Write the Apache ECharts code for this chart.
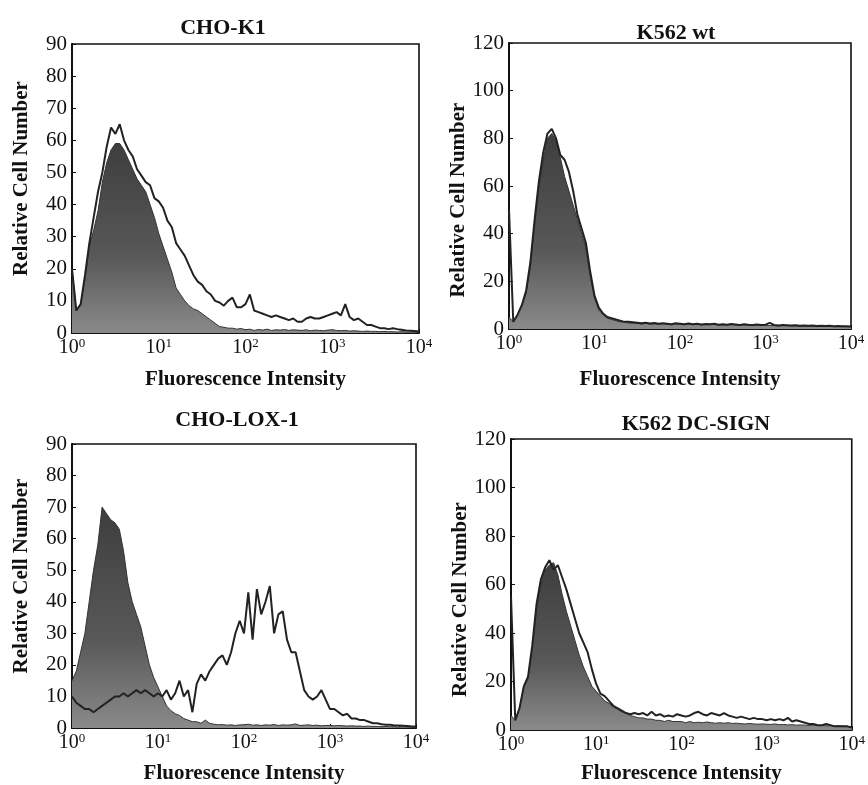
<!DOCTYPE html>
<html>
<head>
<meta charset="utf-8">
<script src="https://cdn.jsdelivr.net/npm/echarts@6/dist/echarts.min.js"></script>
<style>
html,body{margin:0;padding:0;background:#fff;}
#c{width:868px;height:785px;}
</style>
</head>
<body>
<div id="c"></div>
<script>
// log10 channel positions (fluorescence decades)
const channels = [0.00,0.05,0.10,0.15,0.20,0.25,0.30,0.35,0.40,0.45,
  0.50,0.55,0.60,0.65,0.70,0.75,0.80,0.85,0.90,0.95,
  1.00,1.05,1.10,1.15,1.20,1.25,1.30,1.35,1.40,1.45,
  1.50,1.55,1.60,1.65,1.70,1.75,1.80,1.85,1.90,1.95,
  2.00,2.05,2.10,2.15,2.20,2.25,2.30,2.35,2.40,2.45,
  2.50,2.55,2.60,2.65,2.70,2.75,2.80,2.85,2.90,2.95,
  3.00,3.05,3.10,3.15,3.20,3.25,3.30,3.35,3.40,3.45,
  3.50,3.55,3.60,3.65,3.70,3.75,3.80,3.85,3.90,3.95,4.00];

const xTickExponents = [0, 1, 2, 3, 4];

const panelTitles = ['CHO-K1', 'K562 wt', 'CHO-LOX-1', 'K562 DC-SIGN'];
const yMaxes = [90, 120, 90, 120];
const yIntervals = [10, 20, 10, 20];

const choK1Control = [20,7,9,17,27,32,38,47,53,57,
  59,59,57,54,51,48,46,44,40,36,
  31,27,23,19,14,12,10,8.5,7.5,7,
  6,5,4,3,2,1.8,1.5,1.5,1.2,1.4,
  1,1.2,0.8,1.1,0.9,1.2,0.8,1,0.9,1.1,
  0.8,1,0.9,0.8,1,0.7,0.9,0.8,0.7,0.9,
  1,0.8,0.7,0.8,0.6,0.7,0.6,0.5,0.6,0.5,
  0.5,0.4,0.5,0.4,0.4,0.3,0.4,0.3,0.3,0.3,0.3];
const choK1Stain = [20,7,9,18,28,36,44,50,58,64,
  62,65,60,57,55,51,49,47,46,42,
  41,39,35,33,28,26,24,21,18,16,
  15,13,12,10,9.5,8.5,10,11,8,8,
  9,12,7,6.5,6,5.5,5,5.5,5,4.5,
  4,4.5,3.5,3.5,4.5,5,4.5,4.5,5,5.5,
  6,6.5,5.5,9,5,4,4.5,3.5,2.5,2.5,
  2,1.5,1.5,1.2,1.5,1.2,1,0.8,0.7,0.6,0.5];

const k562wtControl = [5,3,6,10,15,26,44,60,71,80,
  82,79,72,64,58,52,46,40,34,22,
  13,8,6,4.5,4,3.5,3,3,2.5,2.5,
  2.5,2,2.5,2,2.2,2,2.3,2,1.8,2.2,
  2,1.8,2.1,1.8,2,1.7,1.9,1.8,2,1.6,
  1.8,1.6,1.9,1.7,1.5,1.8,1.6,1.5,1.7,1.5,
  1.6,1.4,1.5,1.3,1.5,1.4,1.3,1.4,1.2,1.3,
  1.2,1.3,1.1,1.2,1.1,1.2,1,1.1,1,1,0.9];
const k562wtStain = [50,3,6,10,16,28,46,62,74,82,
  84,80,73,71,66,58,48,42,36,24,
  14,9,6.5,5,4.5,4,3.5,3,3,2.8,
  2.6,2.4,2.6,2.3,2.5,2.2,2.4,2.2,2,2.4,
  2.2,2,2.3,2,2.2,1.9,2.1,2,2.2,1.8,
  2,1.8,2.1,1.9,1.7,2,1.8,1.7,1.9,1.7,
  1.8,2.6,1.7,1.5,1.7,1.6,1.5,1.6,1.4,1.5,
  1.4,1.5,1.3,1.4,1.3,1.4,1.2,1.3,1.2,1.2,1.1];

const choLoxControl = [15,18,24,30,40,50,58,70,68,66,
  65,63,56,46,40,36,32,26,20,16,
  13,10,7,5.5,4.5,4,3,2.5,2,2,
  1.5,2.5,1.5,1.2,1,1.1,0.9,1,0.8,1,
  1,1.2,0.9,1,0.8,1,0.9,1.1,0.8,1,
  0.9,1,1.3,0.8,0.9,1,0.8,0.9,0.7,0.8,
  0.8,0.7,0.8,0.7,0.6,0.7,0.6,0.6,0.5,0.6,
  0.5,0.5,0.4,0.5,0.4,0.4,0.3,0.4,0.3,0.3,0.3];
const choLoxStain = [10,8,7,6,6,5,6,7,8,9,
  10,10,11,10,11,12,11,12,11,10,
  11,10,12,9,11,15,10,12,5,14,
  17,15,18,20,22,23,20,24,30,34,
  30,43,28,44,36,40,45,30,36,37,
  28,24,24,18,12,10,9,10,12,9,
  6,6,5,4,4.5,3,3,2.5,2.5,2,
  1.5,1.5,1.2,1,1,0.8,0.8,0.7,0.6,0.5,0.5];

const k562DcControl = [6,4,9,18,21,34,50,60,66,68,
  69,64,56,49,43,37,31,26,22,18,
  16,14,12,11,9.5,8.5,7.5,7,6,5.5,
  5,5,4.5,4.5,4,4,3.5,4,3.5,3.5,
  3.5,3,3.5,3,3.2,3,3.3,3,2.8,3,
  2.8,3,2.7,2.8,2.6,2.5,2.7,2.5,2.4,2.5,
  2.4,2.3,2.5,2.2,2.3,2.1,2.2,2,2.1,2,
  1.9,2,1.8,1.9,1.7,1.8,1.6,1.7,1.5,1.5,1.3];
const k562DcStain = [55,4,9,18,22,35,52,62,67,70,
  66,68,63,58,52,46,40,36,32,25,
  19,15,14,12,10,9,8,7,6.5,7,
  6.5,7,6,7.5,6,6.5,5.5,6,5.5,6.5,
  6,5.5,6,7,7.5,6.5,6,7,6.5,6,
  7,6,5.5,5,5.5,5,4.5,5,4.5,4.5,
  4,4.5,4,4.5,4,5,3.5,4,3.5,3,
  2.5,2.5,2,2,2.5,2,1.5,1.5,1.5,1.5,1];

const controls = [choK1Control, k562wtControl, choLoxControl, k562DcControl];
const stains = [choK1Stain, k562wtStain, choLoxStain, k562DcStain];

// layout
const grids = [
  {left: 72, top: 44, width: 347, height: 289},
  {left: 509, top: 43, width: 342, height: 286},
  {left: 72, top: 444, width: 344, height: 286},
  {left: 511, top: 439, width: 341, height: 293}
];
const titlePos = [[218, 12], [671, 17], [232, 404], [691, 408]];
const xNameGaps = [36, 40, 35, 33];
const yNamePads = [[0,0,0,20],[0,28,0,0],[0,0,0,20],[0,30,0,0]];

const FONT = '"Liberation Serif", "Times New Roman", serif';

const chart = echarts.init(document.getElementById('c'));

const option = {
  backgroundColor: '#fff',
  animation: false,
  title: panelTitles.map((t, i) => ({
    text: t, left: titlePos[i][0], top: titlePos[i][1], textAlign: 'center',
    textStyle: {fontFamily: FONT, fontWeight: 'bold', fontSize: 22, color: '#111'}
  })),
  grid: grids.map(g => Object.assign({show: true, borderColor: '#111', borderWidth: 1.6, backgroundColor: 'transparent'}, g)),
  xAxis: grids.map((g, i) => ({
    gridIndex: i, type: 'value', min: xTickExponents[0], max: xTickExponents[xTickExponents.length - 1], interval: 1,
    name: 'Fluorescence Intensity', nameLocation: 'middle', nameGap: xNameGaps[i],
    nameTextStyle: {fontFamily: FONT, fontWeight: 'bold', fontSize: 21, color: '#111'},
    axisLine: {show: true, lineStyle: {color: '#111', width: 2}},
    axisTick: {show: true, inside: true, length: 4, lineStyle: {color: '#111'}},
    minorTick: {show: true, splitNumber: 5, length: 2, lineStyle: {color: '#333'}},
    splitLine: {show: false},
    axisLabel: {
      margin: 4, fontFamily: FONT, fontSize: 20, color: '#111',
      formatter: v => '10{s|' + v + '}',
      rich: {s: {fontFamily: FONT, fontSize: 13, color: '#111', verticalAlign: 'bottom', padding: [0, 0, 9, 0]}}
    }
  })),
  yAxis: grids.map((g, i) => ({
    gridIndex: i, type: 'value', min: 0, max: yMaxes[i], interval: yIntervals[i],
    name: 'Relative Cell Number', nameLocation: 'middle', nameGap: 40,
    nameTextStyle: {fontFamily: FONT, fontWeight: 'bold', fontSize: 21, color: '#111', padding: yNamePads[i]},
    axisLine: {show: true, lineStyle: {color: '#111', width: 2}},
    axisTick: {show: true, inside: true, length: 4, lineStyle: {color: '#111'}},
    splitLine: {show: false},
    axisLabel: {margin: 5, fontFamily: FONT, fontSize: 21, color: '#111'}
  })),
  series: []
};

for (let i = 0; i < 4; i++) {
  option.series.push({
    type: 'line', xAxisIndex: i, yAxisIndex: i, symbol: 'none', z: 2,
    data: channels.map((c, k) => [c, controls[i][k]]),
    lineStyle: {color: '#333333', width: 1},
    areaStyle: {
      opacity: 1,
      color: new echarts.graphic.LinearGradient(0, 0, 0, 1, [
        {offset: 0, color: '#3e3e3e'},
        {offset: 0.6, color: '#585858'},
        {offset: 1, color: '#8a8a8a'}
      ])
    }
  });
  option.series.push({
    type: 'line', xAxisIndex: i, yAxisIndex: i, symbol: 'none', z: 3,
    data: channels.map((c, k) => [c, stains[i][k]]),
    lineStyle: {color: '#222222', width: 2}
  });
}

chart.setOption(option);
</script>
</body>
</html>
